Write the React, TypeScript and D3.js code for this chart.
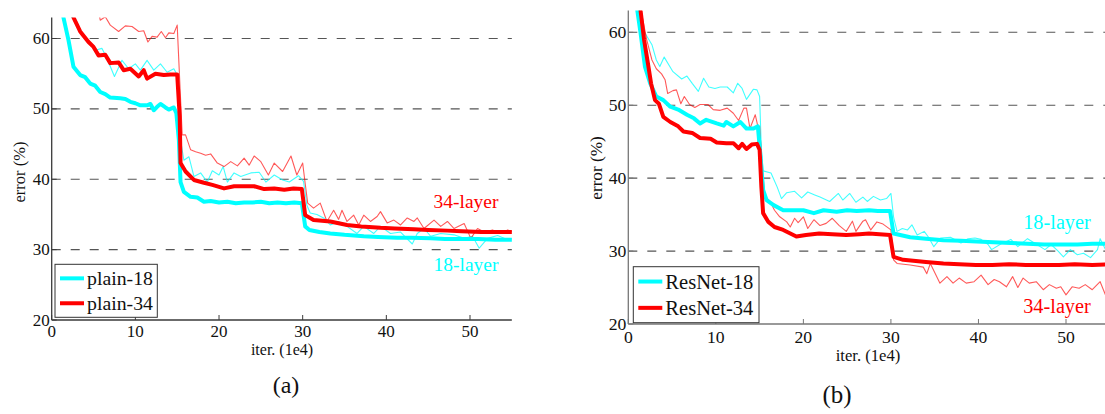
import React from "react";
import * as d3 from "d3";

// ---------- tick labels ----------
const xTicks = [0, 10, 20, 30, 40, 50];
const yTicks = [20, 30, 40, 50, 60];
const gridValues = [30, 40, 50, 60];

// ---------- panel (a) plain nets : [iter (1e4), error %] ----------
const plain18Train: [number, number][] = [
  [2.2, 64], [2.4, 63], [3.0, 62.4], [3.8, 60.2], [4.6, 59.5], [5.4, 58.4], [6.0, 58.6], [6.6, 57.2],
  [7.5, 54.6], [8.4, 56.9], [9.2, 55.7], [10.0, 56.4], [10.6, 55.5], [11.4, 56.9], [12.2, 55.5],
  [13.0, 56.4], [13.8, 55.2], [14.6, 55.7], [15.0, 54.8], [15.4, 45.6], [15.8, 42.7], [16.4, 43.2],
  [17.0, 40.4], [17.8, 40.9], [18.6, 39.6], [19.2, 41.2], [20.0, 40.6], [20.5, 41.8], [21.0, 39.6],
  [21.8, 40.9], [22.6, 40.4], [23.8, 40.9], [24.8, 41.0], [25.6, 39.6], [26.6, 40.6], [27.6, 39.9],
  [28.4, 39.6], [29.5, 40.5], [30.1, 39.7], [30.5, 36.3], [30.9, 35.2], [31.7, 35.0], [32.5, 34.5],
  [33.3, 33.5], [34.3, 34.0], [35.3, 33.3], [36.5, 32.3], [37.3, 33.3], [38.5, 32.3], [39.3, 33.3],
  [40.5, 32.3], [41.7, 32.5], [43.1, 30.8], [43.7, 32.3], [44.5, 33.0], [45.3, 31.9], [46.5, 32.3],
  [48.1, 32.1], [49.3, 31.6], [50.3, 31.9], [51.1, 30.2], [52.1, 31.6], [53.3, 32.0], [54.5, 31.4],
  [55.2, 31.6],
];
const plain34Train: [number, number][] = [
  [5.6, 64], [5.8, 62.6], [6.4, 63.1], [7.0, 61.9], [8.0, 61.0], [8.8, 61.8], [9.6, 61.7], [10.4, 61.0],
  [11.0, 61.1], [11.5, 59.5], [12.0, 60.3], [12.6, 60.2], [13.1, 61.0], [13.6, 60.1], [14.0, 60.8],
  [14.6, 60.7], [15.0, 61.9], [15.6, 46.3], [16.0, 46.3], [16.6, 44.2], [17.2, 43.9], [17.8, 43.7],
  [18.4, 43.4], [19.0, 43.6], [19.8, 42.3], [20.6, 41.8], [21.4, 42.5], [22.2, 41.9], [23.0, 43.0],
  [23.6, 42.0], [24.2, 43.3], [25.0, 42.5], [25.9, 40.6], [26.6, 42.3], [27.6, 41.1], [28.6, 43.3],
  [29.3, 40.6], [30.0, 42.3], [30.3, 39.4], [30.6, 36.6], [31.3, 35.9], [32.1, 36.6], [32.9, 34.0],
  [33.7, 35.6], [34.3, 34.3], [34.7, 35.6], [35.3, 34.0], [36.1, 34.9], [36.7, 33.5], [37.3, 34.9],
  [38.1, 34.0], [38.9, 34.7], [39.3, 35.4], [40.1, 33.8], [40.9, 34.2], [41.7, 33.5], [42.5, 34.5],
  [43.3, 34.0], [43.7, 34.5], [44.5, 33.0], [45.7, 34.2], [46.5, 33.3], [47.3, 34.0], [48.1, 33.0],
  [49.3, 33.7], [50.1, 31.6], [50.9, 33.0], [51.7, 32.5], [52.7, 32.8], [53.7, 32.3], [54.5, 32.8],
  [55.2, 32.5],
];
const plain18Val: [number, number][] = [
  [1.2, 65], [1.4, 63], [2.0, 59.8], [2.6, 56.0], [3.4, 54.8], [4.0, 54.5], [4.6, 53.6], [5.2, 53.3],
  [5.8, 52.4], [6.4, 52.1], [7.0, 51.6], [8.2, 51.5], [8.8, 51.4], [9.4, 51.0], [10.0, 50.8], [10.6, 50.5],
  [11.4, 50.5], [11.8, 50.7], [12.2, 49.8], [12.6, 50.3], [13.0, 50.7], [13.6, 50.2], [14.0, 49.9],
  [14.6, 50.2], [14.9, 49.4], [15.2, 45.6], [15.4, 39.6], [15.8, 38.2], [16.6, 37.5], [17.4, 37.4],
  [18.2, 36.8], [19.0, 36.9], [20, 36.7], [21, 36.8], [22, 36.6], [23, 36.7], [24, 36.7], [25, 36.8],
  [26, 36.6], [27, 36.7], [28, 36.6], [29, 36.7], [29.9, 36.6], [30.3, 33.3], [30.8, 32.8], [32, 32.5],
  [33.3, 32.3], [35, 32.1], [37.3, 31.9], [39, 31.8], [41.3, 31.7], [43, 31.7], [45.3, 31.6], [47, 31.5],
  [49.3, 31.5], [51, 31.5], [53, 31.4], [55.2, 31.4],
];
const plain34Val: [number, number][] = [
  [2.4, 65], [2.6, 63], [3.4, 61.0], [4.4, 59.5], [5.0, 58.8], [5.6, 57.6], [6.4, 57.7], [7.0, 56.5],
  [8.0, 56.6], [8.6, 55.5], [9.4, 55.7], [10.4, 54.6], [11.0, 55.5], [11.4, 54.3], [12.4, 55.0],
  [13.4, 54.8], [14.2, 54.9], [15.0, 54.9], [15.3, 48.9], [15.4, 42.3], [16.0, 41.1], [17.0, 39.9],
  [18.2, 39.5], [19.2, 39.2], [20.6, 38.7], [21.8, 39.0], [23, 39.0], [24.2, 39.0], [25.4, 38.6],
  [26.6, 38.7], [27.8, 38.5], [28.9, 38.7], [29.9, 38.6], [30.3, 34.9], [31.3, 34.2], [33.3, 34.0],
  [35.3, 33.5], [37, 33.3], [39.3, 33.1], [41, 33.0], [43.3, 32.9], [45, 32.8], [47.3, 32.7], [49, 32.6],
  [51.3, 32.5], [53, 32.5], [55.2, 32.5],
];

// ---------- panel (b) ResNets ----------
const resnet18Train: [number, number][] = [
  [1.1, 65], [1.3, 62.7], [1.9, 59.9], [2.7, 58.3], [3.2, 56.2], [3.6, 55.3], [4.1, 56.6], [5.1, 54.6],
  [6.1, 53.6], [6.7, 54.0], [7.3, 53.0], [8.0, 51.9], [8.6, 53.7], [9.2, 52.5], [9.9, 52.3], [10.5, 52.5],
  [11.3, 52.5], [12.0, 51.7], [12.5, 53.0], [13.0, 52.3], [13.5, 50.8], [14.3, 52.2], [14.7, 52.1],
  [15.0, 51.2], [15.2, 43.9], [15.4, 41.0], [16.3, 40.7], [17.0, 38.8], [17.5, 37.2], [18.1, 38.0],
  [19.0, 38.2], [19.8, 37.3], [20.5, 38.1], [21.3, 37.7], [21.9, 37.4], [23.0, 36.8], [24.0, 37.9],
  [24.5, 37.0], [25.3, 37.9], [26.0, 36.7], [26.8, 37.4], [27.3, 36.8], [28.0, 37.5], [28.8, 37.0],
  [29.5, 37.2], [30.0, 37.9], [30.3, 34.7], [30.7, 32.7], [31.3, 33.1], [31.9, 32.9], [32.4, 33.6],
  [33.0, 32.2], [33.8, 32.7], [34.3, 31.9], [34.9, 30.6], [35.7, 31.8], [36.8, 31.9], [38.0, 31.1],
  [38.8, 31.7], [39.6, 31.8], [40.3, 31.6], [41.1, 30.9], [41.5, 30.2], [42.6, 31.0], [43.7, 31.6],
  [44.5, 30.6], [45.6, 31.7], [46.4, 31.1], [47.6, 30.2], [48.3, 30.9], [49.1, 30.0], [49.7, 29.2],
  [50.5, 30.2], [51.3, 29.5], [52.0, 29.7], [52.8, 29.1], [53.6, 30.2], [53.9, 31.7], [54.6, 30.0],
];
const resnet34Train: [number, number][] = [
  [1.3, 65], [1.5, 62.7], [2.1, 59.0], [2.7, 56.2], [3.2, 55.0], [3.8, 54.3], [4.2, 53.5], [4.5, 51.6],
  [5.1, 52.0], [5.5, 52.1], [6.0, 50.2], [6.4, 51.2], [7.0, 50.1], [7.6, 49.7], [8.2, 50.1], [9.1, 50.1],
  [9.7, 49.4], [10.5, 49.3], [11.3, 49.6], [12.0, 48.9], [12.6, 47.9], [13.2, 49.6], [13.5, 49.6],
  [13.9, 46.8], [14.5, 48.7], [14.8, 47.1], [15.0, 47.1], [15.3, 41.6], [15.6, 37.5], [16.2, 36.8],
  [16.7, 35.6], [17.3, 34.7], [18.1, 34.0], [18.5, 33.3], [19.0, 34.5], [19.4, 33.9], [20.0, 34.7],
  [20.5, 33.1], [21.2, 34.3], [21.9, 33.5], [22.6, 33.8], [23.3, 34.5], [24.1, 33.5], [24.9, 32.7],
  [25.6, 34.1], [26.0, 32.7], [26.8, 34.1], [27.1, 34.3], [27.7, 32.9], [28.4, 34.0], [29.1, 33.7],
  [30.0, 32.9], [30.3, 28.8], [30.7, 28.3], [32.2, 28.1], [33.7, 27.8], [34.1, 26.9], [34.5, 28.3],
  [35.6, 25.6], [36.4, 26.5], [37.1, 25.6], [37.8, 26.3], [38.6, 25.6], [39.5, 25.8], [40.3, 26.7],
  [41.1, 25.4], [41.8, 26.1], [42.4, 25.8], [43.2, 25.1], [43.9, 26.5], [44.5, 25.0], [45.1, 26.3],
  [45.8, 25.6], [46.6, 25.8], [47.4, 24.7], [48.1, 25.4], [48.9, 24.9], [49.4, 25.1], [50.0, 24.0],
  [50.7, 25.1], [51.5, 24.9], [52.2, 25.4], [53.0, 24.7], [53.9, 25.8], [54.6, 23.7],
];
const resnet18Val: [number, number][] = [
  [0.9, 65], [1.03, 63], [1.4, 59.9], [1.9, 55.3], [2.5, 53.0], [3.2, 51.2], [4.0, 50.7], [4.8, 49.8],
  [5.7, 49.4], [6.7, 48.7], [7.5, 48.2], [8.2, 47.5], [8.9, 48.0], [10.1, 47.5], [10.9, 47.2],
  [11.2, 47.7], [12.0, 47.1], [12.8, 47.7], [13.5, 46.8], [14.3, 46.8], [14.8, 47.1], [15.1, 43.0],
  [15.4, 38.4], [15.8, 37.0], [16.6, 36.3], [17.7, 35.6], [18.9, 35.6], [20.0, 35.6], [21.2, 35.2],
  [22.3, 35.6], [23.8, 35.4], [25.0, 35.6], [26.1, 35.5], [27.5, 35.6], [28.5, 35.5], [29.9, 35.5],
  [30.3, 32.4], [32.2, 31.9], [34, 31.7], [36.0, 31.5], [38, 31.4], [39.8, 31.3], [41.7, 31.2],
  [43.7, 31.1], [45.6, 31.0], [47.5, 30.9], [49.4, 30.9], [51.3, 30.9], [53, 31.0], [55, 31.0],
];
const resnet34Val: [number, number][] = [
  [1.3, 65], [1.4, 63], [1.8, 59.0], [2.3, 55.3], [2.6, 53.0], [3.05, 50.7], [3.5, 50.2], [4.0, 48.4],
  [4.8, 47.7], [5.7, 47.1], [6.3, 46.4], [7.3, 46.2], [8.2, 45.5], [9.4, 45.4], [10.1, 44.9],
  [11.2, 44.8], [12.0, 44.8], [12.6, 44.1], [13.0, 44.7], [13.5, 44.0], [14.1, 44.6], [14.7, 44.7],
  [15.0, 43.9], [15.2, 38.8], [15.4, 35.2], [16.0, 34.0], [16.7, 33.3], [17.7, 32.9], [19.2, 32.0],
  [20.3, 32.2], [21.8, 32.4], [23.3, 32.3], [24.9, 32.2], [26.4, 32.3], [27.5, 32.4], [28.7, 32.3],
  [29.9, 32.2], [30.3, 29.2], [31.4, 28.8], [34.0, 28.5], [36, 28.3], [37.8, 28.2], [39.7, 28.1],
  [41.6, 28.1], [43.5, 28.2], [45.4, 28.1], [47.3, 28.1], [49.2, 28.1], [51, 28.2], [53, 28.1], [55, 28.2],
];

const CYAN = "#00ffff";
const RED = "#ff0000";
const FONT = "'Liberation Serif', 'Times New Roman', serif";

type PanelProps = {
  id: string;
  xPx: [number, number]; // px of x=0 and x=50
  yPx: [number, number]; // px of y=20 and y=60
  scale: number;
  axisColor: string;
  trainA: [number, number][];
  trainB: [number, number][];
  valA: [number, number][];
  valB: [number, number][];
  legendA: string;
  legendB: string;
  legendBox: [number, number, number, number];
  label18: [number, number];
  label34: [number, number];
  yLabelPos: [number, number];
  xLabelPos: [number, number];
  captionPos: [number, number];
  caption: string;
  xTickDy: number;
};

function Panel(p: PanelProps) {
  const x = d3.scaleLinear().domain([0, 50]).range(p.xPx);
  const y = d3.scaleLinear().domain([20, 60]).range(p.yPx);
  const xEnd = x(55);
  const yTop = y(63);
  const yBot = y(20);
  const x0 = x(0);
  const line = d3
    .line<[number, number]>()
    .x((d) => x(d[0]))
    .y((d) => y(d[1]));
  const s = p.scale;
  const [lx, ly, lw, lh] = p.legendBox;
  return (
    <g fontFamily={FONT}>
      <defs>
        <clipPath id={`clip-${p.id}`}>
          <rect x={x0} y={yTop} width={xEnd - x0} height={yBot - yTop} />
        </clipPath>
      </defs>
      {gridValues.map((v) => (
        <line key={v} x1={x0} x2={xEnd} y1={y(v)} y2={y(v)} stroke="#555" strokeWidth={1.1} strokeDasharray="9 10" />
      ))}
      <g clipPath={`url(#clip-${p.id})`} fill="none" strokeLinejoin="round">
        <path d={line(p.trainA) || ""} stroke={CYAN} strokeWidth={1.1} strokeOpacity={0.75} />
        <path d={line(p.trainB) || ""} stroke={RED} strokeWidth={1.1} strokeOpacity={0.65} />
        <path d={line(p.valA) || ""} stroke={CYAN} strokeWidth={4} />
        <path d={line(p.valB) || ""} stroke={RED} strokeWidth={4} />
      </g>
      {/* axes */}
      <line x1={x0} x2={x0} y1={yTop} y2={yBot} stroke={p.axisColor} strokeWidth={1.3} />
      <line x1={x0} x2={xEnd} y1={yBot} y2={yBot} stroke={p.axisColor} strokeWidth={1.3} />
      {xTicks.map((t) => (
        <g key={t}>
          <line x1={x(t)} x2={x(t)} y1={yBot} y2={yBot - 5} stroke={p.axisColor} strokeWidth={1} />
          <text x={x(t)} y={yBot + p.xTickDy} textAnchor="middle" fontSize={17 * s} fill="#111">
            {t}
          </text>
        </g>
      ))}
      {yTicks.map((t) => (
        <g key={t}>
          <line x1={x0} x2={x0 + 5} y1={y(t)} y2={y(t)} stroke={p.axisColor} strokeWidth={1} />
          <text x={x0 - 2} y={y(t) + 5.5} textAnchor="end" fontSize={17 * s} fill="#111">
            {t}
          </text>
        </g>
      ))}
      <text
        transform={`translate(${p.yLabelPos[0]},${p.yLabelPos[1]}) rotate(-90)`}
        textAnchor="middle"
        fontSize={16.5 * s}
        fill="#111"
      >
        error (%)
      </text>
      <text x={p.xLabelPos[0]} y={p.xLabelPos[1]} textAnchor="middle" fontSize={16 * s} fill="#111">
        iter. (1e4)
      </text>
      <text x={p.captionPos[0]} y={p.captionPos[1]} textAnchor="middle" fontSize={24 * s} fill="#111">
        {p.caption}
      </text>
      <text x={p.label34[0]} y={p.label34[1]} textAnchor="middle" fontSize={19.5 * s} fill={RED}>
        34-layer
      </text>
      <text x={p.label18[0]} y={p.label18[1]} textAnchor="middle" fontSize={19.5 * s} fill={CYAN}>
        18-layer
      </text>
      {/* legend */}
      <rect x={lx} y={ly} width={lw} height={lh} fill="#fff" stroke="#333" strokeWidth={1} />
      <line x1={lx + 5} x2={lx + 29} y1={ly + lh * 0.265} y2={ly + lh * 0.265} stroke={CYAN} strokeWidth={4} />
      <line x1={lx + 5} x2={lx + 29} y1={ly + lh * 0.735} y2={ly + lh * 0.735} stroke={RED} strokeWidth={4} />
      <text x={lx + 32} y={ly + lh * 0.265 + 7} fontSize={19.8 * s} fill="#111">
        {p.legendA}
      </text>
      <text x={lx + 32} y={ly + lh * 0.735 + 7} fontSize={19.8 * s} fill="#111">
        {p.legendB}
      </text>
    </g>
  );
}

export default function App() {
  return (
    <svg
      width={1105}
      height={414}
      style={{ position: "absolute", left: 0, top: 0, background: "#fff" }}
    >
      <rect width={1105} height={414} fill="#fff" />
      <Panel
        id="a"
        xPx={[51.7, 470]}
        yPx={[320, 38.5]}
        scale={1}
        axisColor="#3a3a3a"
        trainA={plain18Train}
        trainB={plain34Train}
        valA={plain18Val}
        valB={plain34Val}
        legendA="plain-18"
        legendB="plain-34"
        legendBox={[55, 264.3, 102.3, 53]}
        label18={[466, 271]}
        label34={[466, 208]}
        yLabelPos={[25, 172]}
        xLabelPos={[282, 355]}
        captionPos={[286, 393]}
        caption="(a)"
        xTickDy={16.5}
      />
      <Panel
        id="b"
        xPx={[628.3, 1066]}
        yPx={[324, 32.3]}
        scale={1.04}
        axisColor="#777"
        trainA={resnet18Train}
        trainB={resnet34Train}
        valA={resnet18Val}
        valB={resnet34Val}
        legendA="ResNet-18"
        legendB="ResNet-34"
        legendBox={[633.3, 266.7, 125.7, 56]}
        label18={[1057, 229]}
        label34={[1057, 313]}
        yLabelPos={[602, 168]}
        xLabelPos={[868, 361]}
        captionPos={[837, 403]}
        caption="(b)"
        xTickDy={18.5}
      />
    </svg>
  );
}
